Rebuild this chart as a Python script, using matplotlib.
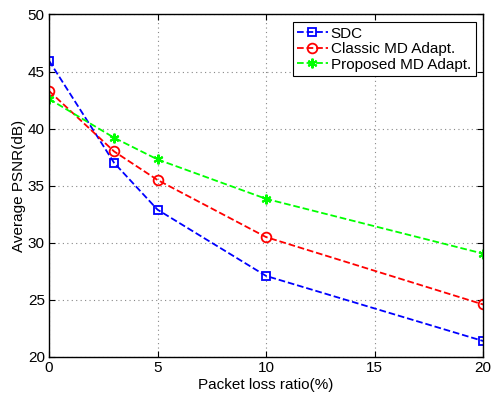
import matplotlib
matplotlib.use("Agg")
import matplotlib.pyplot as plt

plt.rcParams['font.family'] = ['Liberation Sans', 'DejaVu Sans']

x = [0, 3, 5, 10, 20]
sdc = [45.95, 37.0, 32.9, 27.1, 21.4]
classic = [43.3, 38.0, 35.5, 30.5, 24.6]
proposed = [42.6, 39.2, 37.3, 33.85, 29.05]
labels = ['SDC', 'Classic MD Adapt.', 'Proposed MD Adapt.']

fig = plt.figure(figsize=(4.92, 3.96), dpi=100)
ax = fig.add_axes([0.0996, 0.0985, 0.8824, 0.8651])

ax.plot(x, sdc, '--', color='#0000ff', marker='s', mfc='none', mec='#0000ff', ms=6, mew=1.3, lw=1.3, label=labels[0])
ax.plot(x, classic, '--', color='#ff0000', marker='o', mfc='none', mec='#ff0000', ms=7, mew=1.3, lw=1.3, label=labels[1])
ax.plot(x, proposed, '--', color='#00ff00', marker=(6, 2, 0), mec='#00ff00', ms=7, mew=1.5, lw=1.3, label=labels[2])

ax.set_xlim(0, 20)
ax.set_ylim(20, 50)
ax.set_xticks([0, 5, 10, 15, 20])
ax.set_yticks([20, 25, 30, 35, 40, 45, 50])
ax.grid(True, linestyle=(0, (1, 3)), color='#888888', lw=0.8)
ax.tick_params(direction='in', top=True, right=True, labelsize=11, length=4, pad=3)
for s in ax.spines.values():
    s.set_linewidth(1.0)
ax.set_xlabel('Packet loss ratio(%)', fontsize=11, labelpad=2)
ax.set_ylabel('Average PSNR(dB)', fontsize=11, labelpad=1)

leg = ax.legend(loc='upper right', fontsize=11, fancybox=False, framealpha=1,
                edgecolor='black', handlelength=2.0, handletextpad=0.2,
                borderpad=0.3, labelspacing=0.1, borderaxespad=0.5)
leg.get_frame().set_linewidth(0.8)

fig.savefig('out.png', dpi=100)
